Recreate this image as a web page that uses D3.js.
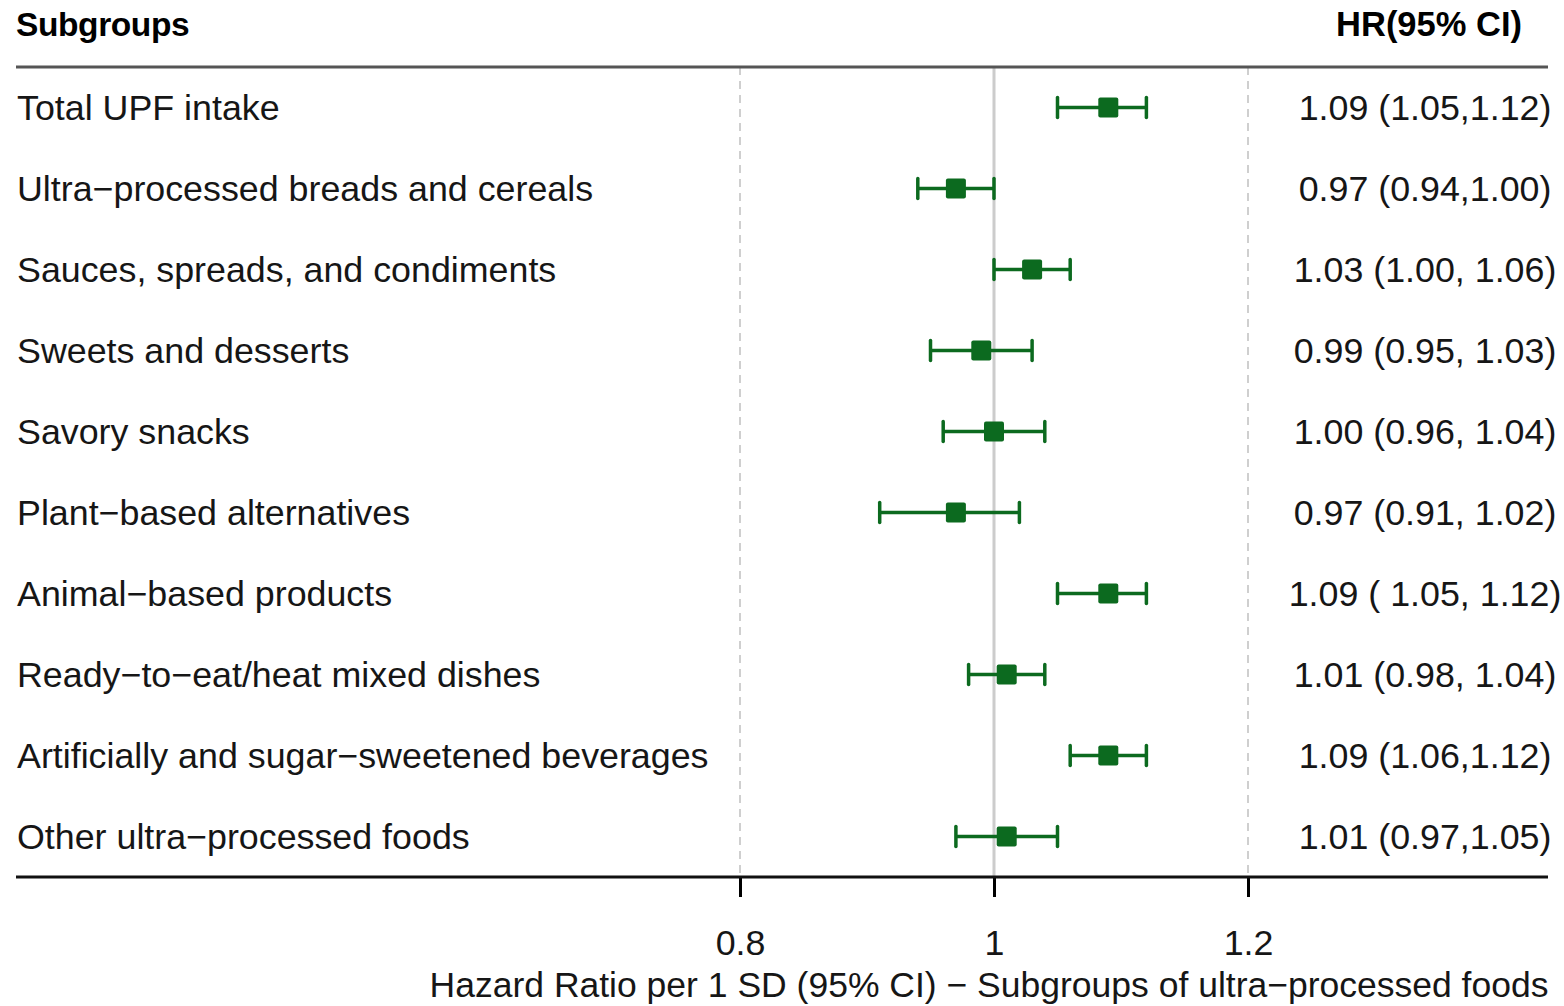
<!DOCTYPE html>
<html>
<head>
<meta charset="utf-8">
<script src="https://cdn.jsdelivr.net/npm/d3@7"></script>
<style>
  body { margin: 0; background: #fff; }
  svg { display: block; font-family: "Liberation Sans", Arial, Helvetica, sans-serif; }
</style>
</head>
<body>
<svg id="chart" width="1564" height="1006"></svg>
<script>
// subgroups, top to bottom
const subgroups = [
    'Total UPF intake',
    'Ultra\u2212processed breads and cereals',
    'Sauces, spreads, and condiments',
    'Sweets and desserts',
    'Savory snacks',
    'Plant\u2212based alternatives',
    'Animal\u2212based products',
    'Ready\u2212to\u2212eat/heat mixed dishes',
    'Artificially and sugar\u2212sweetened beverages',
    'Other ultra\u2212processed foods'
];
const hr =    [1.09, 0.97, 1.03, 0.99, 1.00, 0.97, 1.09, 1.01, 1.09, 1.01];
const lower = [1.05, 0.94, 1.00, 0.95, 0.96, 0.91, 1.05, 0.98, 1.06, 0.97];
const upper = [1.12, 1.00, 1.06, 1.03, 1.04, 1.02, 1.12, 1.04, 1.12, 1.05];
const hrLabels = [
    '1.09 (1.05,1.12)',
    '0.97 (0.94,1.00)',
    '1.03 (1.00, 1.06)',
    '0.99 (0.95, 1.03)',
    '1.00 (0.96, 1.04)',
    '0.97 (0.91, 1.02)',
    '1.09 ( 1.05, 1.12)',
    '1.01 (0.98, 1.04)',
    '1.09 (1.06,1.12)',
    '1.01 (0.97,1.05)'
];
const xTicks = [0.8, 1, 1.2];

const svg = d3.select('#chart');
const green = '#0c6a1f';
const fontSize = 35.8;
const textColor = '#161616';

const padLeft = 16, padRight = 1548;
const plotTop = 67, plotBottom = 877;

const x = d3.scaleLinear().domain([0.8, 1.2]).range([740, 1248]);
const y = d3.scaleBand().domain(subgroups).range([plotTop, plotBottom]).padding(0);

// headers
svg.append('text')
    .attr('x', padLeft).attr('y', 36)
    .attr('font-size', 33.5).attr('font-weight', 'bold')
    .attr('letter-spacing', -0.4)
    .attr('fill', '#000')
    .text('Subgroups');
svg.append('text')
    .attr('x', 1522).attr('y', 36)
    .attr('text-anchor', 'end')
    .attr('font-size', 34.5).attr('font-weight', 'bold')
    .attr('fill', '#000')
    .text('HR(95% CI)');

// reference lines
svg.selectAll('.grid')
    .data([0.8, 1.2])
    .enter().append('line')
    .attr('x1', d => x(d)).attr('x2', d => x(d))
    .attr('y1', plotTop).attr('y2', plotBottom)
    .attr('stroke', '#cfcfcf')
    .attr('stroke-width', 2)
    .attr('stroke-dasharray', '8,6');
svg.append('line')
    .attr('x1', x(1)).attr('x2', x(1))
    .attr('y1', plotTop).attr('y2', plotBottom)
    .attr('stroke', '#cccccc')
    .attr('stroke-width', 3);

// top rule
svg.append('line')
    .attr('x1', padLeft).attr('x2', padRight)
    .attr('y1', plotTop).attr('y2', plotTop)
    .attr('stroke', '#555')
    .attr('stroke-width', 3);

// subgroup labels
svg.selectAll('.label')
    .data(subgroups)
    .enter().append('text')
    .attr('x', padLeft + 1)
    .attr('y', d => y(d) + y.bandwidth() / 2)
    .attr('dy', '0.36em')
    .attr('font-size', fontSize)
    .attr('fill', textColor)
    .text(d => d);

// HR text column
svg.selectAll('.hr')
    .data(hrLabels)
    .enter().append('text')
    .attr('x', 1425)
    .attr('y', (d, i) => y(subgroups[i]) + y.bandwidth() / 2)
    .attr('dy', '0.36em')
    .attr('text-anchor', 'middle')
    .attr('font-size', fontSize)
    .attr('fill', textColor)
    .text(d => d);

// confidence intervals
const rows = subgroups.map((s, i) => ({ s, hr: hr[i], lo: lower[i], hi: upper[i] }));
const g = svg.append('g');
const cy = d => y(d.s) + y.bandwidth() / 2;
const capH = 10;

g.selectAll('.ci')
    .data(rows)
    .enter().append('line')
    .attr('x1', d => x(d.lo)).attr('x2', d => x(d.hi))
    .attr('y1', cy).attr('y2', cy)
    .attr('stroke', green).attr('stroke-width', 3.5);

['lo', 'hi'].forEach(k => {
    g.selectAll('.cap-' + k)
        .data(rows)
        .enter().append('line')
        .attr('x1', d => x(d[k])).attr('x2', d => x(d[k]))
        .attr('y1', d => cy(d) - capH).attr('y2', d => cy(d) + capH)
        .attr('stroke', green).attr('stroke-width', 3.5)
        .attr('stroke-linecap', 'round');
});

const box = 20;
g.selectAll('.pt')
    .data(rows)
    .enter().append('rect')
    .attr('x', d => x(d.hr) - box / 2)
    .attr('y', d => cy(d) - box / 2)
    .attr('width', box).attr('height', box)
    .attr('rx', 2)
    .attr('fill', green);

// bottom axis
const axis = svg.append('g')
    .attr('transform', `translate(0,${plotBottom})`)
    .call(d3.axisBottom(x).tickValues(xTicks).tickSize(20).tickSizeOuter(0).tickFormat(d3.format('')));
axis.select('.domain').remove();
axis.selectAll('.tick line').attr('stroke', '#000').attr('stroke-width', 3);
axis.selectAll('.tick text')
    .attr('font-size', fontSize)
    .attr('font-family', 'inherit')
    .attr('fill', textColor)
    .attr('y', 0)
    .attr('dy', 0)
    .attr('transform', 'translate(0,78)');

svg.append('line')
    .attr('x1', padLeft).attr('x2', padRight)
    .attr('y1', plotBottom).attr('y2', plotBottom)
    .attr('stroke', '#111')
    .attr('stroke-width', 3);

svg.append('text')
    .attr('x', 989).attr('y', 997)
    .attr('text-anchor', 'middle')
    .attr('font-size', 35.5)
    .attr('fill', textColor)
    .text('Hazard Ratio per 1 SD (95% CI) \u2212 Subgroups of ultra\u2212processed foods');
</script>
</body>
</html>
